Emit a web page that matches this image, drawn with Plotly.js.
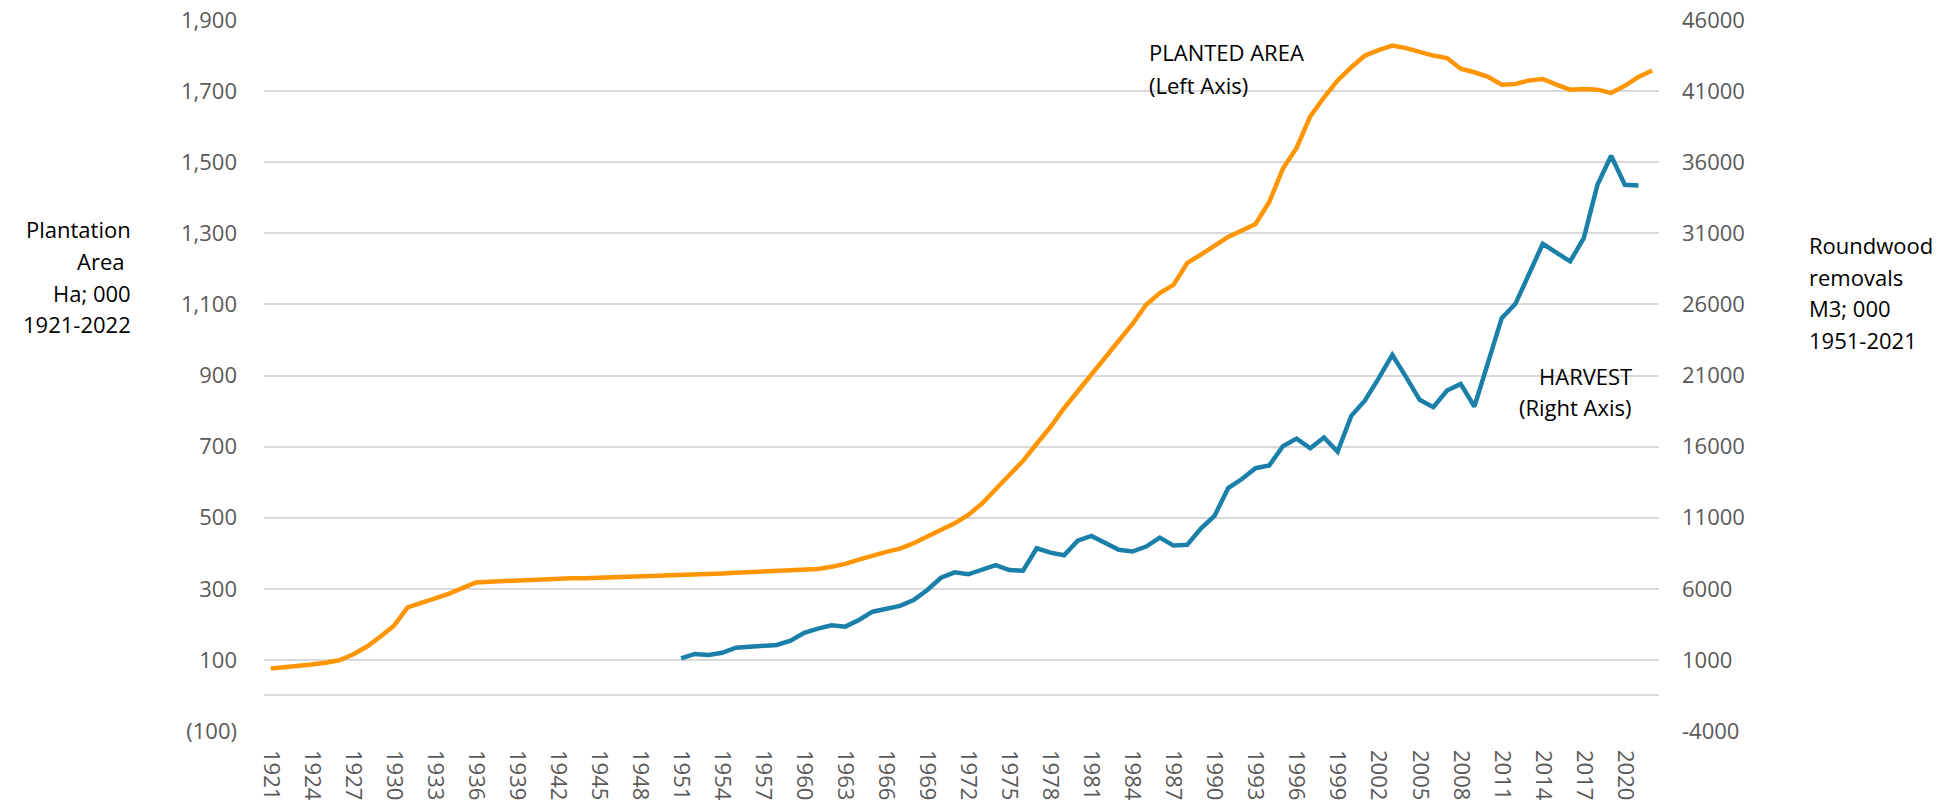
<!DOCTYPE html>
<html>
<head>
<meta charset="utf-8">
<script src="https://cdn.plot.ly/plotly-3.0.1.min.js"></script>
<style>html,body{margin:0;padding:0;background:#fff;}#chart{width:1951px;height:809px;}</style>
</head>
<body>
<div id="chart"></div>
<script>
// ---- Data ----
const plantedYears = [];
for (let y = 1921; y <= 2022; y++) plantedYears.push(String(y));
const plantedArea = [
  76, 79, 83, 87, 92, 99, 115, 137, 165, 196,          // 1921-1930
  248, 260, 272, 286, 302, 318, 320, 322, 324, 327,    // 1931-1940
  329, 330, 330, 330, 331, 332, 333, 334, 335, 337,    // 1941-1950
  339, 340, 341, 343, 345, 347, 348, 350, 351, 352,    // 1951-1960
  356, 362, 370, 382, 394, 404, 413, 428, 447, 465,    // 1961-1970
  484, 508, 540, 580, 618, 660, 708, 755, 808, 855,    // 1971-1980
  900, 948, 995, 1045, 1099, 1132, 1155, 1216, 1240, 1265, // 1981-1990
  1290, 1308, 1326, 1388, 1482, 1540, 1629, 1682, 1730, 1767, // 1991-2000
  1800, 1815, 1828, 1821, 1810, 1800, 1793, 1763, 1753, 1740, // 2001-2010
  1718, 1720, 1730, 1734, 1718, 1704, 1706, 1704, 1695, 1715, // 2011-2020
  1740, 1758                                           // 2021-2022
];
const harvestYears = [];
for (let y = 1951; y <= 2021; y++) harvestYears.push(String(y));
const harvest = [
  1100, 1420, 1350, 1500, 1860, 1930, 1980, 2050, 2350, 2910,      // 1951-1960
  3200, 3430, 3340, 3810, 4390, 4630, 4800, 5210, 5920, 6780,      // 1961-1970
  7160, 7020, 7370, 7670, 7320, 7270, 8850, 8540, 8360, 9390,      // 1971-1980
  9720, 9250, 8740, 8620, 8970, 9600, 9040, 9090, 10230, 11120,    // 1981-1990
  13080, 13720, 14480, 14670, 16030, 16560, 15880, 16640, 15650, 18160, // 1991-2000
  19250, 20800, 22450, 20900, 19290, 18770, 19940, 20410, 18820, 21900, // 2001-2010
  25030, 26040, 28150, 30260, 29640, 29020, 30660, 34410, 36450, 34410, // 2011-2020
  34370                                                            // 2021
];
const xTickVals = plantedYears.filter((y, i) => i % 3 === 0);
const leftTickVals = [-100, 100, 300, 500, 700, 900, 1100, 1300, 1500, 1700, 1900];
const leftTickText = ['(100)', '100', '300', '500', '700', '900', '1,100', '1,300', '1,500', '1,700', '1,900'];
const rightTickVals = [-4000, 1000, 6000, 11000, 16000, 21000, 26000, 31000, 36000, 41000, 46000];
const rightTickText = ['-4000', '1000', '6000', '11000', '16000', '21000', '26000', '31000', '36000', '41000', '46000'];
const leftTitleLines = ['Plantation', 'Area', 'Ha; 000', '1921-2022'];
const rightTitleLines = ['Roundwood', 'removals', 'M3; 000', '1951-2021'];
const plantedLabel = ['PLANTED AREA', '(Left Axis)'];
const harvestLabel = ['HARVEST', '(Right Axis)'];

// ---- Layout helpers (pixel -> paper) ----
const W = 1951, H = 809;
const L = 264, R = 1659, T = 20, B = 731;
const px = x => (x - L) / (R - L);
const py = y => (B - y) / (B - T);
const FONT = 'Open Sans, DejaVu Sans, sans-serif';

const annotations = [];
function addLines(lines, xPix, yCenters, anchor, shifts) {
  lines.forEach((t, i) => {
    annotations.push({
      text: t, xref: 'paper', yref: 'paper',
      x: px(xPix + (shifts ? shifts[i] : 0)), y: py(yCenters[i]),
      xanchor: anchor, yanchor: 'middle', showarrow: false,
      font: {family: FONT, size: 22, color: '#000000'}
    });
  });
}
addLines(leftTitleLines, 133, [229, 261, 293, 324], 'right', [0, -7, 0, 0]);
addLines(rightTitleLines, 1807, [245, 277, 308, 340], 'left');
addLines(plantedLabel, 1147, [52, 85], 'left');
addLines(harvestLabel, 1634, [376, 407], 'right');

const traces = [
  {x: plantedYears, y: plantedArea, type: 'scatter', mode: 'lines', yaxis: 'y',
   line: {color: '#FF9500', width: 4.5}, name: 'Planted area', hoverinfo: 'x+y'},
  {x: harvestYears, y: harvest, type: 'scatter', mode: 'lines', yaxis: 'y2',
   line: {color: '#1A80AA', width: 4.5}, name: 'Harvest', hoverinfo: 'x+y'}
];

const tickFont = {family: FONT, size: 22, color: '#595959'};
const layout = {
  width: W, height: H,
  margin: {l: L, r: W - R, t: T, b: H - B, pad: 0},
  paper_bgcolor: '#ffffff', plot_bgcolor: '#ffffff',
  showlegend: false,
  xaxis: {
    type: 'category', categoryorder: 'array', categoryarray: plantedYears,
    range: [-0.5, plantedYears.length - 0.5],
    tickmode: 'array', tickvals: xTickVals, ticktext: xTickVals,
    tickangle: 90, tickfont: tickFont, ticks: '', ticklabelstandoff: 18,
    showgrid: false, zeroline: false, showline: false, fixedrange: true
  },
  yaxis: {
    range: [-100, 1900], tickmode: 'array', tickvals: leftTickVals, ticktext: leftTickText,
    tickfont: tickFont, ticks: '', ticklabelstandoff: 26,
    showgrid: true, gridcolor: '#d9d9d9', gridwidth: 2,
    zeroline: true, zerolinecolor: '#d9d9d9', zerolinewidth: 2,
    showline: false, fixedrange: true
  },
  yaxis2: {
    overlaying: 'y', side: 'right', anchor: 'x',
    range: [-4000, 46000], tickmode: 'array', tickvals: rightTickVals, ticktext: rightTickText,
    tickfont: tickFont, ticks: '', ticklabelstandoff: 22,
    showgrid: false, zeroline: false, showline: false, fixedrange: true
  },
  annotations: annotations
};

Plotly.newPlot('chart', traces, layout, {displayModeBar: false, staticPlot: true});
</script>
</body>
</html>
